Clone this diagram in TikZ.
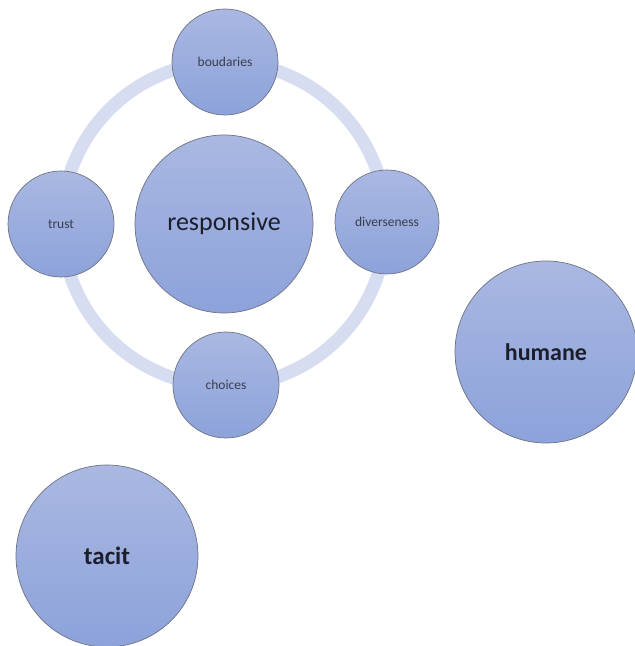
\documentclass[tikz,border=0pt]{standalone}
\usepackage{fontspec}
\setmainfont{Carlito}
\definecolor{topc}{HTML}{AAB8E2}
\definecolor{botc}{HTML}{8CA2DA}
\definecolor{ringc}{HTML}{D6DDF0}
\definecolor{edgec}{HTML}{6E7384}
\definecolor{txtc}{HTML}{1C1E2C}
\definecolor{smallc}{HTML}{3A3D4C}
\tikzset{
  bubble/.style={circle, draw=edgec, line width=0.7pt, top color=topc, bottom color=botc, inner sep=0pt, align=center},
  bigbubble/.style={bubble, minimum size=178pt, text=txtc},
  smallbubble/.style={bubble, minimum size=106pt, text=smallc, font=\fontsize{13.5}{16}\selectfont},
}
\begin{document}
\begin{tikzpicture}[x=1pt,y=1pt]
\useasboundingbox (0,0) rectangle (635,646);
\coordinate (ctr) at (224,422);
\draw[ringc, line width=13pt] (ctr) circle (162);
\node[bigbubble, font=\fontsize{26}{30}\selectfont] (resp) at (ctr) {responsive};
\node[smallbubble] (boud) at (225,584) {boudaries};
\node[smallbubble] (trust) at (61,422) {trust};
\node[smallbubble, minimum size=104pt] (div) at (387,424) {diverseness};
\node[smallbubble] (cho) at (226,261) {choices};
\node[bigbubble, minimum size=182pt, font=\fontsize{24}{28}\selectfont\bfseries] (hum) at (546,294) {humane};
\node[bigbubble, minimum size=182pt, font=\fontsize{25}{29}\selectfont\bfseries] (tac) at (107,90) {tacit};
\end{tikzpicture}
\end{document}
